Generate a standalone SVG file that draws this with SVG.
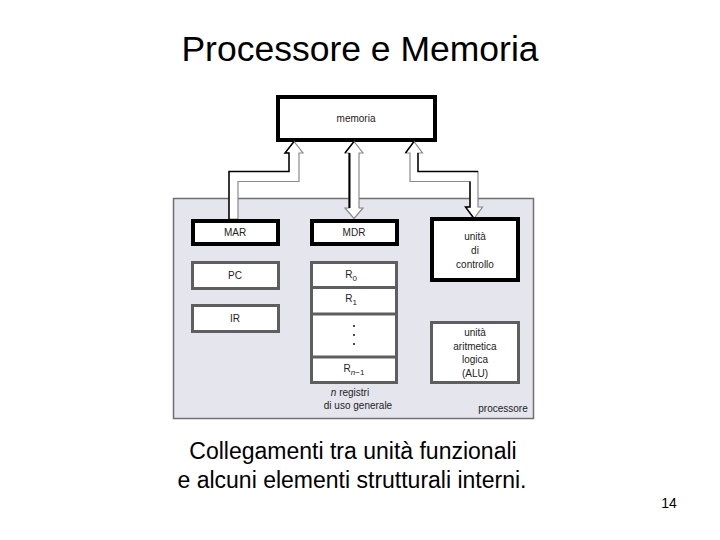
<svg xmlns="http://www.w3.org/2000/svg" width="720" height="540" viewBox="0 0 720 540">
<style>
.t{font-family:"Liberation Sans",Arial,sans-serif;fill:#000}
.s{font-size:10px;text-anchor:middle;fill:#222;font-family:"Liberation Sans",Arial,sans-serif}
.bk{fill:#fff;stroke:#000;stroke-width:4}
.gr{fill:#fff;stroke:#5e5e5e;stroke-width:3}
.ar{fill:#fff;stroke:#8a8a8a;stroke-width:1.2;stroke-linejoin:miter}
.ab{fill:none;stroke:#000;stroke-width:1.4}
</style>
<rect width="720" height="540" fill="#fff"/>
<text class="t" x="360" y="61" font-size="35.5" text-anchor="middle">Processore e Memoria</text>

<g id="processore">
<rect x="173.5" y="198.5" width="360" height="220" fill="#e5e5ed" stroke="#707070" stroke-width="1.5"/>
<text class="s" x="503" y="412">processore</text>
</g>

<g id="memoria">
<rect class="bk" x="278" y="97" width="157" height="43"/>
<text class="s" x="356" y="122">memoria</text>
</g>

<g id="connectors">
<polygon class="ar" points="294,141.5 303,153 299,153 299,181.5 238,181.5 238,219 229,219 229,171.5 289,171.5 289,153 285,153"/>
<polyline class="ab" points="229,219 229,171.5 289,171.5 289,153 285,153 294,141.5"/>
<polygon class="ar" points="354,141.5 363,153 359,153 359,208 363,208 354,218.5 345,208 349,208 349,153 345,153"/>
<polyline class="ab" points="345,153 354,141.5"/>
<line x1="349.5" y1="153" x2="349.5" y2="208" stroke="#000" stroke-width="2"/>
<polygon class="ar" points="414,141.5 422.5,153 418,153 418,171.5 478,171.5 478,207 482.5,207 474,218.5 465.5,207 470,207 470,181.5 410,181.5 410,153 405.5,153"/>
<polyline class="ab" points="418,153 418,171.5 478,171.5"/>
<polyline class="ab" points="470,181.5 470,207 465.5,207 474,218.5"/>
<polyline class="ab" points="405.5,153 414,141.5"/>
</g>

<g id="MAR">
<rect class="bk" x="193" y="221" width="85" height="23"/>
<text class="s" x="235" y="236">MAR</text>
</g>
<g id="PC">
<rect class="gr" x="192.5" y="262.5" width="86" height="26"/>
<text class="s" x="235" y="279">PC</text>
</g>
<g id="IR">
<rect class="gr" x="192.5" y="305.5" width="86" height="26"/>
<text class="s" x="235" y="322">IR</text>
</g>
<g id="MDR">
<rect class="bk" x="312" y="221" width="85" height="23"/>
<text class="s" x="354" y="236">MDR</text>
</g>
<g id="registri">
<rect class="gr" x="311.5" y="262.5" width="85" height="120"/>
<line x1="311.5" y1="287.5" x2="396.5" y2="287.5" stroke="#5e5e5e" stroke-width="3"/>
<line x1="311.5" y1="314" x2="396.5" y2="314" stroke="#5e5e5e" stroke-width="3"/>
<line x1="311.5" y1="357" x2="396.5" y2="357" stroke="#5e5e5e" stroke-width="3"/>
<text class="s" x="351" y="278">R<tspan font-size="8" dy="3">0</tspan></text>
<text class="s" x="351" y="302">R<tspan font-size="8" dy="3">1</tspan></text>
<circle cx="354" cy="326" r="1.1" fill="#222"/>
<circle cx="354" cy="335" r="1.1" fill="#222"/>
<circle cx="354" cy="344" r="1.1" fill="#222"/>
<text class="s" x="354" y="372">R<tspan font-size="8" dy="3"><tspan font-style="italic">n</tspan>−1</tspan></text>
<text class="s" x="350" y="396"><tspan font-style="italic">n</tspan> registri</text>
<text class="s" x="358" y="409">di uso generale</text>
</g>
<g id="controllo">
<rect class="bk" x="432" y="219" width="86" height="61"/>
<text class="s" x="475" y="240">unità</text>
<text class="s" x="475" y="254">di</text>
<text class="s" x="475" y="268">controllo</text>
</g>
<g id="ALU">
<rect class="gr" x="431.5" y="322.5" width="87" height="60"/>
<text class="s" x="475" y="336">unità</text>
<text class="s" x="475" y="349.5">aritmetica</text>
<text class="s" x="475" y="363">logica</text>
<text class="s" x="475" y="376.5">(ALU)</text>
</g>

<text class="t" x="353" y="459" font-size="23" text-anchor="middle">Collegamenti tra unità funzionali</text>
<text class="t" x="352" y="488" font-size="23" text-anchor="middle">e alcuni elementi strutturali interni.</text>
<text class="t" x="669" y="508" font-size="14" text-anchor="middle">14</text>
</svg>
